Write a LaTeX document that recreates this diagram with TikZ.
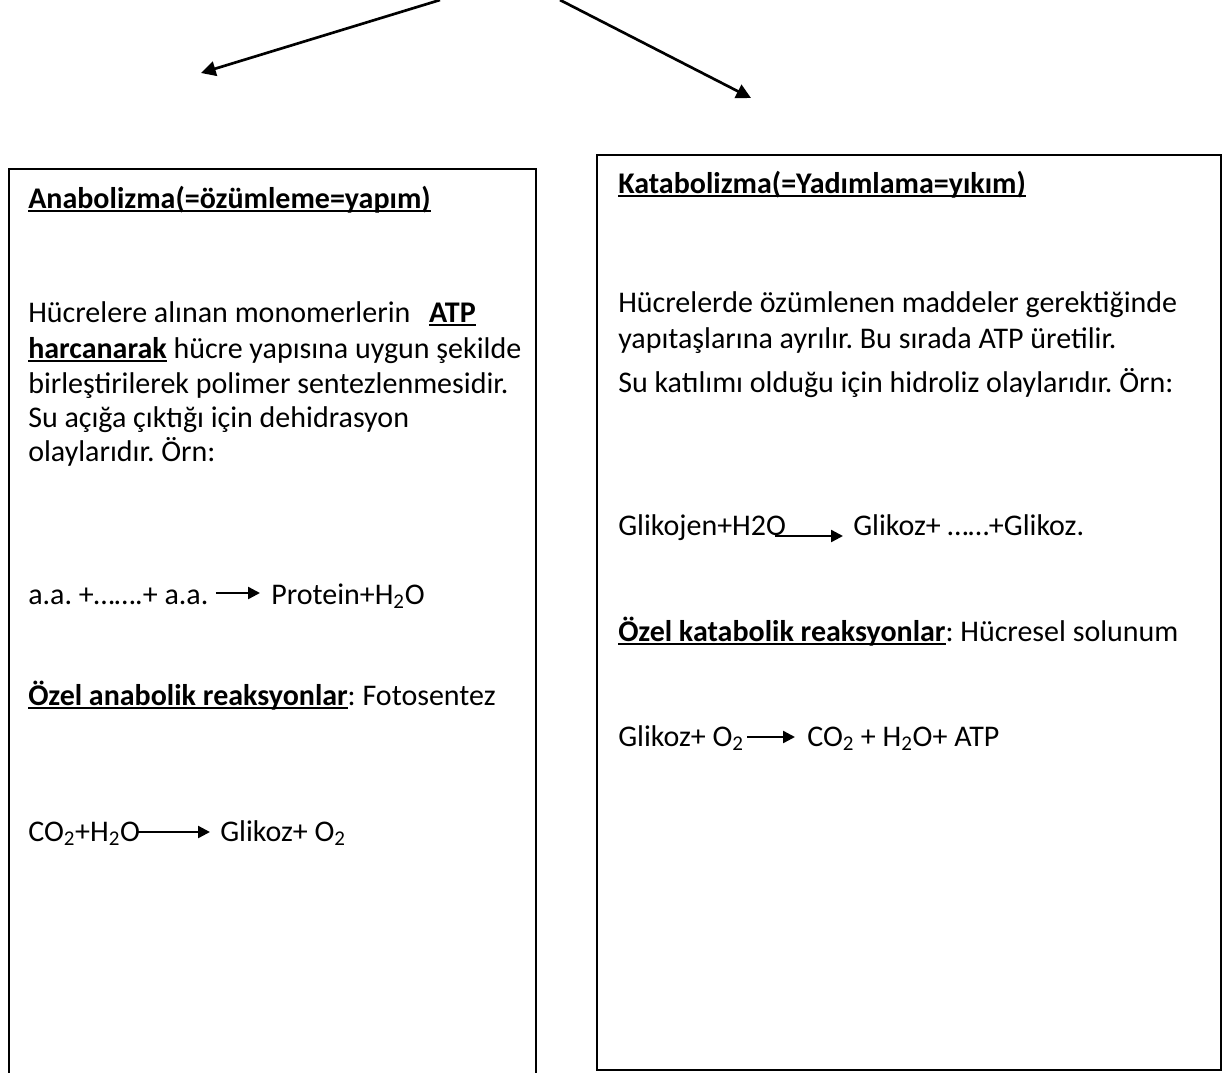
\documentclass[tikz,border=0pt]{standalone}
\usepackage{fontspec}
\setmainfont{Carlito}
\usetikzlibrary{arrows.meta}
\newcommand{\undl}[1]{\setbox0\hbox{#1}\rlap{\rule[-3pt]{\wd0}{1.5pt}}\box0\relax}
\frenchspacing

\begin{document}
\begin{tikzpicture}[x=0.75pt,y=0.75pt,yscale=-1,xscale=1,
  txt/.style={anchor=base west,inner sep=0pt,font=\fontsize{22.5}{27}\selectfont},
  frame/.style={draw,line width=1.4pt},
  bigarrow/.style={line width=2pt,-{Triangle[length=11pt,width=11pt]}},
  rxn/.style={line width=1.8pt,-{Triangle[length=9pt,width=9pt]}}]
\useasboundingbox (0,0) rectangle (1224,1072);

%Shape: Left box (open at the bottom)
\draw [frame] (9,1080) -- (9,169) -- (536,169) -- (536,1080) ;
%Shape: Right box
\draw [frame] (597,155) rectangle (1221,1070) ;

%Straight Lines: top arrows
\coordinate (topl) at (440,0) ;
\coordinate (tipl) at (201,73) ;
\coordinate (topr) at (560,0) ;
\coordinate (tipr) at (751,98) ;
\draw [bigarrow] (topl) -- (tipl) ;
\draw [bigarrow] (topr) -- (tipr) ;

% Text Node: left box
\draw (28,208) node [txt] (anahead) {\undl{\textbf{Anabolizma(=özümleme=yapım)}}};
\draw (28,322) node [txt] (ana1) {Hücrelere alınan monomerlerin\hspace*{14pt}\undl{\textbf{ATP}}};
\draw (28,358) node [txt] (ana2) {\undl{\textbf{harcanarak}} hücre yapısına uygun şekilde};
\draw (28,393) node [txt] (ana3) {birleştirilerek polimer sentezlenmesidir.};
\draw (28,427) node [txt] (ana4) {Su açığa çıktığı için dehidrasyon};
\draw (28,461) node [txt] (ana5) {olaylarıdır. Örn:};
\draw (28,604) node [txt] (aa) {a.a. +…….+ a.a.};
\draw (271,604) node [txt] (prot) {Protein+H\textsubscript{2}O};
\draw (28,705) node [txt] (anaozel) {\undl{\textbf{Özel anabolik reaksyonlar}}: Fotosentez};
\draw (28,841) node [txt] (co) {CO\textsubscript{2}+H\textsubscript{2}O};
\draw (220,841) node [txt] (glia) {Glikoz+ O\textsubscript{2}};

% Text Node: right box
\draw (618,193) node [txt] (kathead) {\undl{\textbf{Katabolizma(=Yadımlama=yıkım)}}};
\draw (618,312) node [txt] (kat1) {Hücrelerde özümlenen maddeler gerektiğinde};
\draw (618,348) node [txt] (kat2) {yapıtaşlarına ayrılır. Bu sırada ATP üretilir.};
\draw (618,392) node [txt] (kat3) {Su katılımı olduğu için hidroliz olaylarıdır. Örn:};
\draw (618,535) node [txt] (glj) {Glikojen+H2O};
\draw (853,535) node [txt] (glk) {Glikoz+ ……+Glikoz.};
\draw (618,641) node [txt] (katozel) {\undl{\textbf{Özel katabolik reaksyonlar}}: Hücresel solunum};
\draw (618,746) node [txt] (glo) {Glikoz+ O\textsubscript{2}};
\draw (807,746) node [txt] (cho) {CO\textsubscript{2} + H\textsubscript{2}O+ ATP};

%Straight Lines: reaction arrows
\draw [rxn] ([shift={(7,-11)}]aa.base east) -- ([shift={(-11,-11)}]prot.base west) ;
\draw [rxn] ([shift={(-2,-9)}]co.base east) -- ([shift={(-10,-9)}]glia.base west) ;
\draw [rxn] ([shift={(-11,1)}]glj.base east) -- ([shift={(-10,1)}]glk.base west) ;
\draw [rxn] ([shift={(3,-9)}]glo.base east) -- ([shift={(-12,-9)}]cho.base west) ;

\end{tikzpicture}
\end{document}
